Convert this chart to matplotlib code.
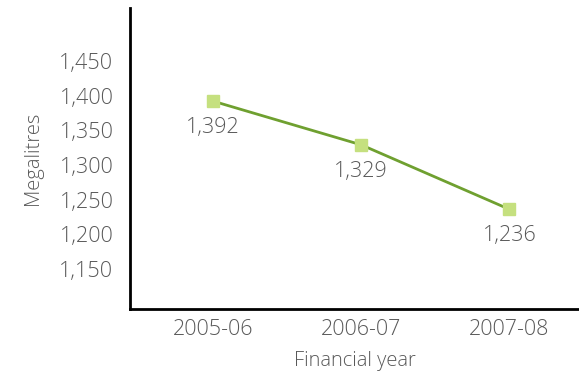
import matplotlib.pyplot as plt

# data
years = ["2005-06", "2006-07", "2007-08"]
megalitres = [1392, 1329, 1236]
value_labels = ["1,392", "1,329", "1,236"]
yticks = [1150, 1200, 1250, 1300, 1350, 1400, 1450]

plt.rcParams['font.family'] = ['Open Sans', 'DejaVu Sans']
plt.rcParams['font.weight'] = 'light'
plt.rcParams['axes.labelweight'] = 'light'
grey = '#595959'
fs = 15.5

fig = plt.figure(figsize=(5.79, 3.77), dpi=100)
ax = fig.add_axes([0.2245, 0.18, 0.7755, 0.80])

x = range(len(years))
ax.plot(x, megalitres, color='#6fa030', lw=2, marker='s', markersize=9,
        markerfacecolor='#c5e07f', markeredgecolor='#c5e07f', zorder=3)

for i, v in enumerate(megalitres):
    ax.annotate(value_labels[i], (i, v), xytext=(0, -19), textcoords='offset points',
                ha='center', va='center', fontsize=fs, color=grey)

ax.set_xlim(-0.56, 2.47)
ax.set_ylim(1092, 1527)
ax.set_xticks(list(x))
ax.set_xticklabels(years)
ax.set_yticks(yticks)
ax.set_yticklabels([f"{t:,}" for t in yticks])
ax.tick_params(length=0, labelsize=fs, labelcolor=grey)
ax.tick_params(axis='y', pad=12)
ax.tick_params(axis='x', pad=7)

for s in ['top', 'right']:
    ax.spines[s].set_visible(False)
for s in ['left', 'bottom']:
    ax.spines[s].set_linewidth(2)
    ax.spines[s].set_color('black')

ax.set_xlabel("Financial year", fontsize=14.5, color=grey, labelpad=8)
ax.set_ylabel("Megalitres", fontsize=14.5, color=grey, labelpad=12)

fig.savefig("out.png", dpi=100)
